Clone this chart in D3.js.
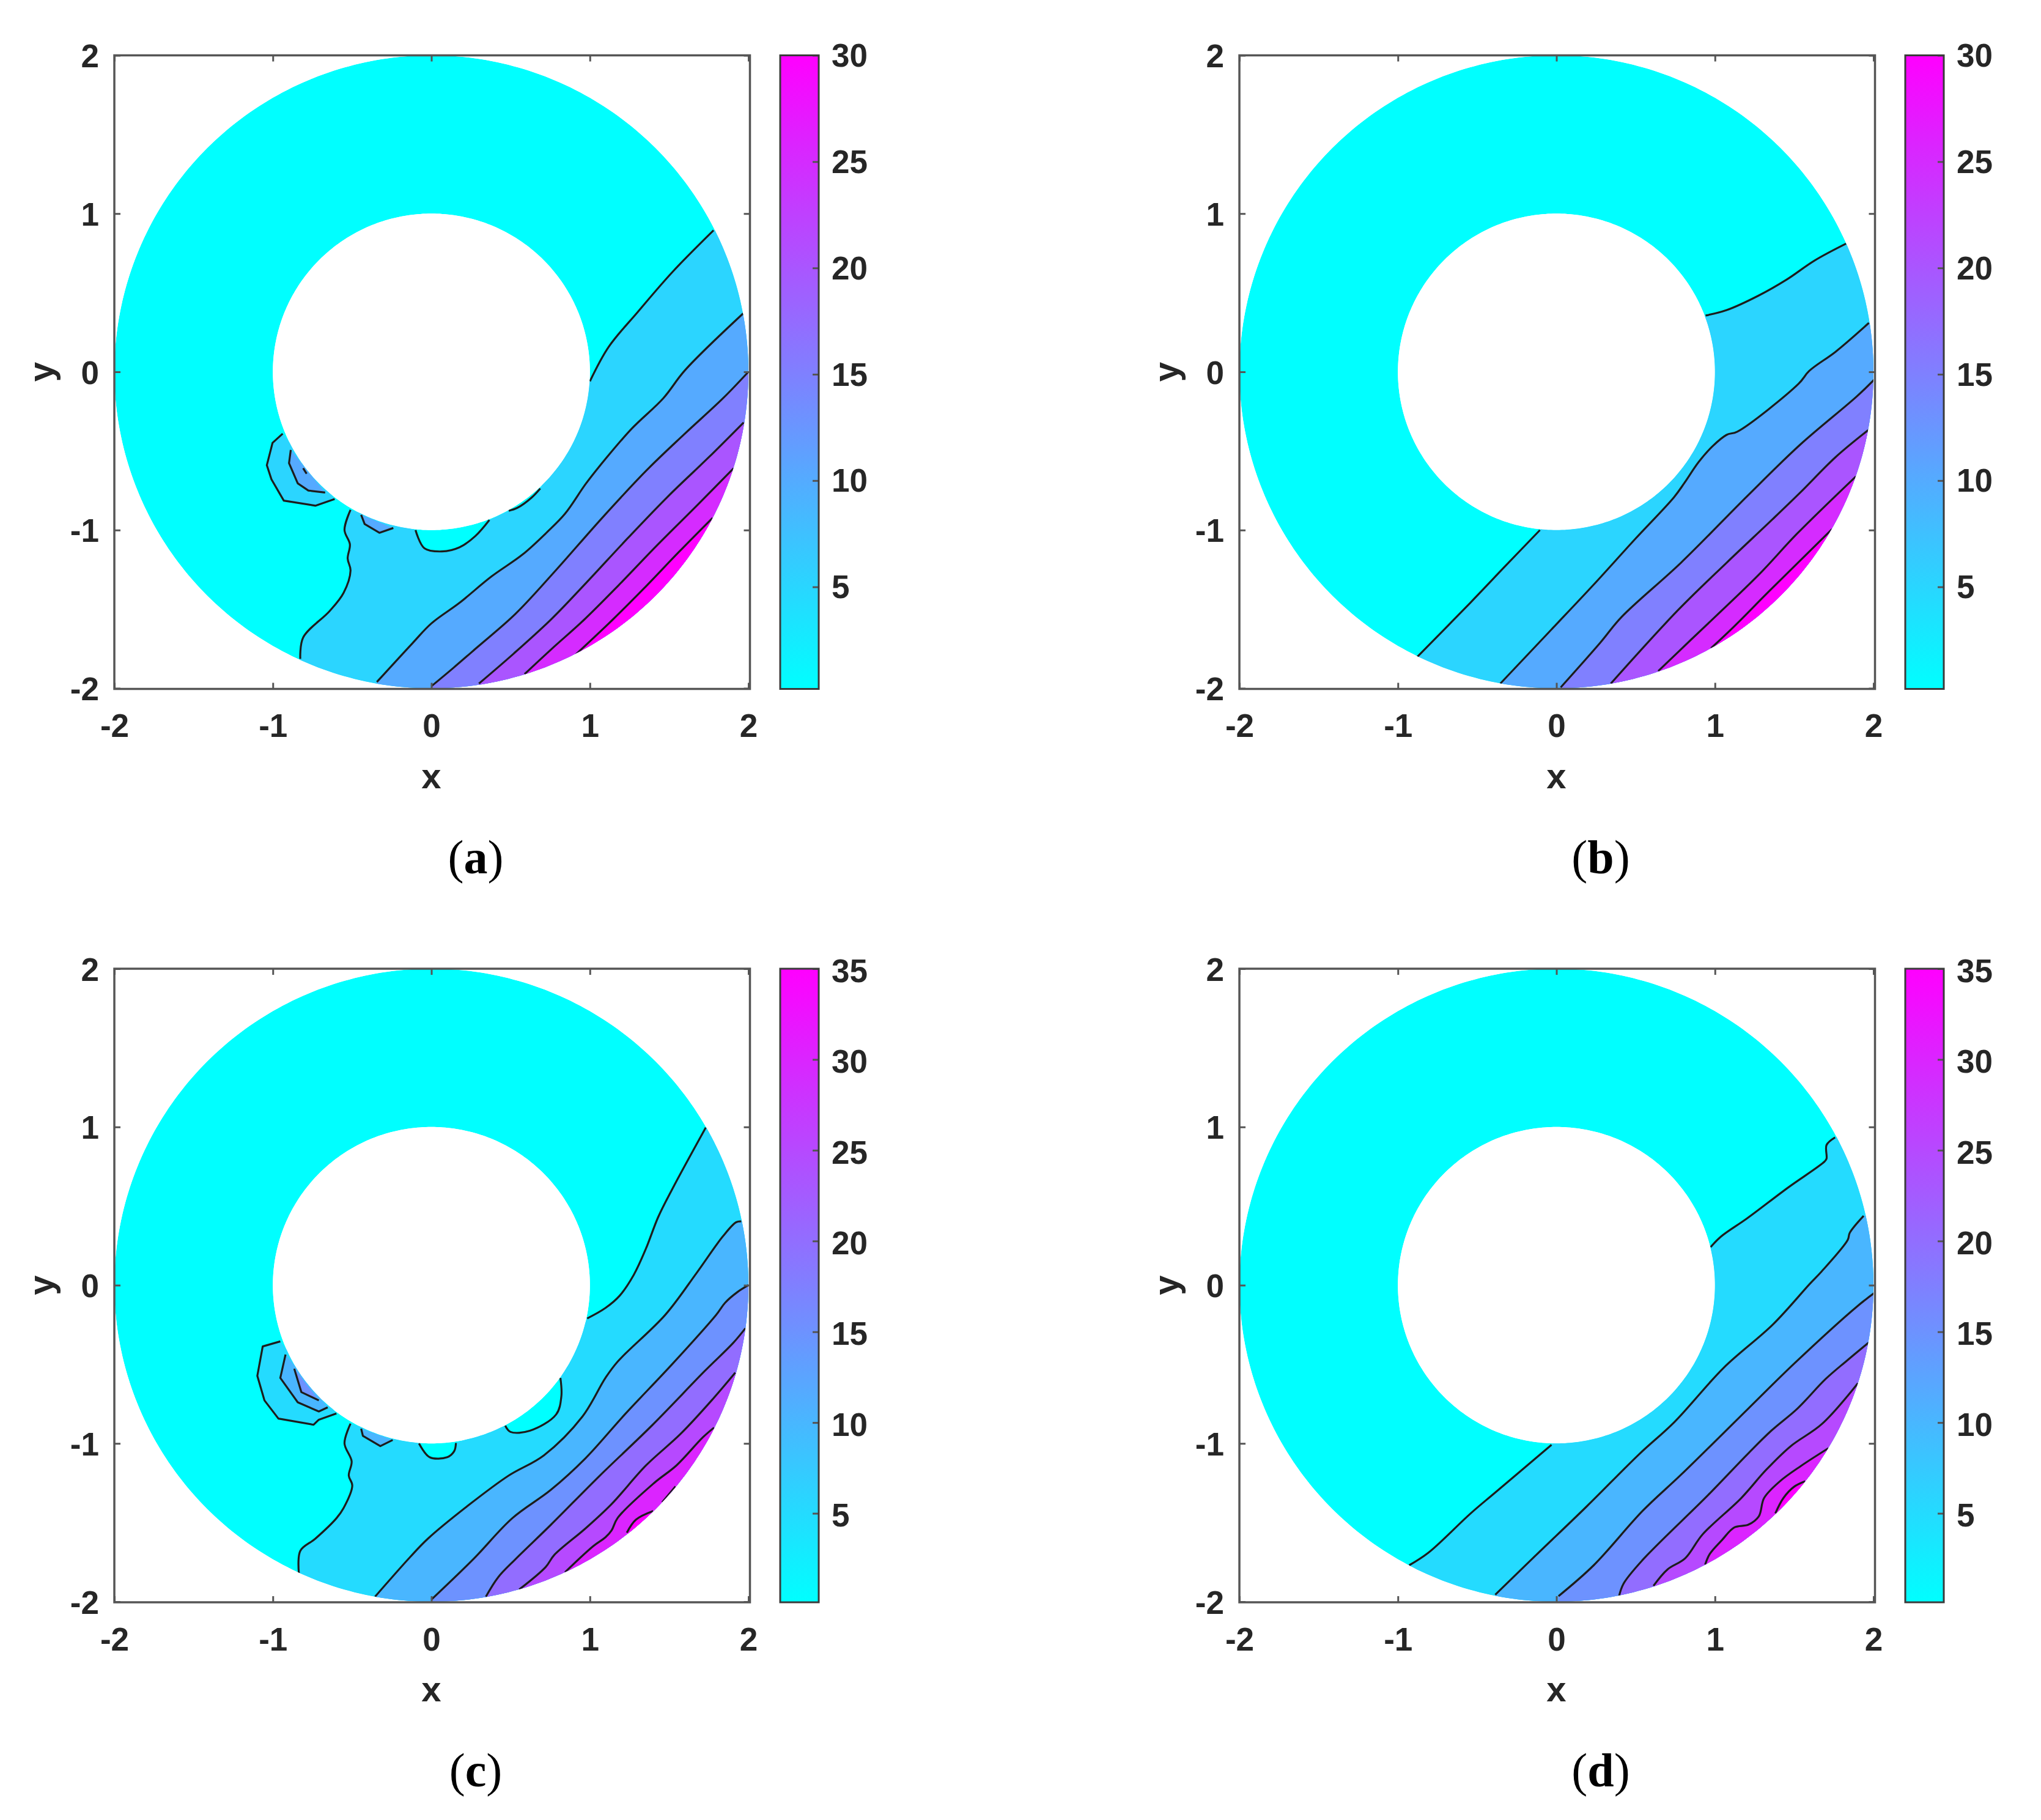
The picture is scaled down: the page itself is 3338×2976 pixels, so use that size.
<!DOCTYPE html>
<html>
<head>
<meta charset="utf-8">
<script src="https://cdn.jsdelivr.net/npm/d3@7/dist/d3.min.js"></script>
<style>
  html, body { margin: 0; padding: 0; background: #fff; }
</style>
</head>
<body>
<div id="chart"></div>
<script>
// axis values
const axisTicks = [-2, -1, 0, 1, 2]
const outerRadius = 2
const innerRadius = 1
const barTicks30 = [5, 10, 15, 20, 25, 30]
const barTicks35 = [5, 10, 15, 20, 25, 30, 35]
const barRange30 = [0.2, 30]
const barRange35 = [0.1, 35]

// contour lines, [x, y]; one level can have several pieces
const aLevels = [
  [
    [[1.78, 0.894], [1.52, 0.63], [1.30, 0.376], [1.118, 0.157], [1.0, -0.06]],
    [[0.687, -0.737], [0.632, -0.795], [0.543, -0.859], [0.488, -0.878]],
    [[0.366, -0.936], [0.277, -1.038], [0.177, -1.109], [0.067, -1.135], [-0.044, -1.115], [-0.1, -1.0]],
    [[-0.51, -0.872], [-0.548, -1.0], [-0.514, -1.09], [-0.528, -1.18], [-0.51, -1.256], [-0.554, -1.397], [-0.643, -1.513], [-0.809, -1.679], [-0.827, -1.814]]
  ],
  [[[1.967, 0.369], [1.6, 0.01], [1.463, -0.167], [1.264, -0.359], [1.098, -0.551], [0.976, -0.705], [0.843, -0.897], [0.73, -1.013], [0.576, -1.154], [0.377, -1.295], [0.177, -1.46], [0.0, -1.59], [-0.122, -1.718], [-0.344, -1.96]]],
  [[[2.0, 0.0], [1.84, -0.167], [1.6, -0.39], [1.36, -0.62], [1.08, -0.92], [0.78, -1.26], [0.53, -1.53], [0.29, -1.74], [0.14, -1.87], [0.0, -1.987]]],
  [[[1.97, -0.32], [1.75, -0.54], [1.5, -0.78], [1.24, -1.05], [0.98, -1.33], [0.76, -1.56], [0.52, -1.78], [0.3, -1.97]]],
  [[[1.907, -0.609], [1.68, -0.84], [1.42, -1.1], [1.18, -1.35], [0.96, -1.57], [0.76, -1.75], [0.588, -1.91]]],
  [[[1.774, -0.923], [1.56, -1.14], [1.34, -1.37], [1.14, -1.57], [0.909, -1.788]]]
]
const aIslands = [
  [1, [[-0.938, -0.391], [-1.002, -0.449], [-1.038, -0.59], [-1.009, -0.679], [-0.931, -0.814], [-0.732, -0.846], [-0.61, -0.804]]],
  [2, [[-0.887, -0.494], [-0.898, -0.577], [-0.843, -0.705], [-0.776, -0.75], [-0.67, -0.763]]],
  [3, [[-0.809, -0.609], [-0.787, -0.644]]],
  [2, [[-0.443, -0.904], [-0.421, -0.962], [-0.328, -1.017], [-0.24, -0.987]]]
]

const bLevels = [
  [
    [[1.827, 0.81], [1.628, 0.703], [1.451, 0.582], [1.274, 0.481], [1.074, 0.39], [0.941, 0.356]],
    [[-0.104, -1.0], [-0.321, -1.226], [-0.543, -1.459], [-0.879, -1.802]]
  ],
  [[[1.971, 0.309], [1.761, 0.127], [1.595, 0.006], [1.528, -0.075], [1.141, -0.378], [1.074, -0.398], [0.986, -0.469], [0.897, -0.57], [0.808, -0.701], [0.742, -0.792], [0.498, -1.055], [0.233, -1.347], [-0.033, -1.63], [-0.354, -1.97]]],
  [[[2.004, -0.05], [1.894, -0.156], [1.539, -0.459], [1.207, -0.782], [0.786, -1.206], [0.41, -1.55], [0.277, -1.711], [0.027, -1.994]]],
  [[[1.967, -0.368], [1.761, -0.539], [1.539, -0.762], [1.362, -0.933], [1.074, -1.206], [0.764, -1.509], [0.343, -1.97]]],
  [[[1.889, -0.661], [1.517, -1.024], [1.274, -1.285], [0.853, -1.689], [0.642, -1.891]]],
  [[[1.739, -0.994], [1.34, -1.388], [1.118, -1.612], [0.975, -1.747]]]
]
const bIslands = []

const cLevels = [
  [
    [[1.731, 0.996], [1.52, 0.608], [1.431, 0.431], [1.354, 0.232], [1.277, 0.066], [1.188, -0.066], [1.098, -0.144], [0.983, -0.21]],
    [[0.814, -0.586], [0.82, -0.702], [0.787, -0.817], [0.621, -0.92], [0.499, -0.927], [0.466, -0.888]],
    [[0.155, -0.997], [0.144, -1.049], [0.1, -1.087], [-0.011, -1.087], [-0.078, -1.0]],
    [[-0.51, -0.875], [-0.548, -1.0], [-0.503, -1.113], [-0.521, -1.203], [-0.499, -1.267], [-0.554, -1.409], [-0.599, -1.473], [-0.732, -1.602], [-0.827, -1.679], [-0.836, -1.82]]
  ],
  [[[1.955, 0.403], [1.923, 0.398], [1.84, 0.31], [1.673, 0.077], [1.475, -0.188], [1.175, -0.483], [1.098, -0.586], [0.953, -0.83], [0.71, -1.075], [0.488, -1.203], [0.244, -1.383], [-0.022, -1.602], [-0.133, -1.717], [-0.355, -1.968]]],
  [[[2.0, 0.0], [1.93, -0.044], [1.853, -0.111], [1.796, -0.188], [1.52, -0.498], [1.22, -0.817], [0.971, -1.095], [0.753, -1.294], [0.51, -1.473], [0.266, -1.73], [0.0, -1.987]]],
  [[[1.981, -0.272], [1.904, -0.365], [1.725, -0.542], [1.393, -0.885], [1.06, -1.206], [0.753, -1.515], [0.532, -1.73], [0.421, -1.846], [0.344, -1.968]]],
  [[[1.917, -0.553], [1.776, -0.719], [1.572, -0.94], [1.354, -1.139], [1.137, -1.383], [0.971, -1.538], [0.776, -1.704], [0.721, -1.781], [0.554, -1.923]]],
  [[[1.783, -0.9], [1.712, -0.962], [1.546, -1.139], [1.405, -1.25], [1.175, -1.471], [1.137, -1.549], [1.098, -1.593], [1.022, -1.648], [0.843, -1.814]]],
  [
    [[1.54, -1.272], [1.456, -1.372]],
    [[1.399, -1.427], [1.29, -1.482], [1.233, -1.564]]
  ]
]
const cIslands = [
  [1, [[-0.953, -0.355], [-1.064, -0.387], [-1.098, -0.573], [-1.053, -0.728], [-0.965, -0.843], [-0.743, -0.882], [-0.71, -0.85], [-0.599, -0.811]]],
  [2, [[-0.92, -0.438], [-0.953, -0.586], [-0.843, -0.74], [-0.71, -0.798], [-0.654, -0.772]]],
  [3, [[-0.865, -0.528], [-0.82, -0.676], [-0.71, -0.728]]],
  [2, [[-0.443, -0.907], [-0.432, -0.952], [-0.322, -1.017], [-0.244, -0.978]]]
]

const dLevels = [
  [
    [[1.758, 0.934], [1.704, 0.886], [1.704, 0.8], [1.692, 0.782], [1.46, 0.616], [1.204, 0.423], [1.038, 0.307], [0.973, 0.241]],
    [[-0.031, -1.009], [-0.386, -1.31], [-0.541, -1.442], [-0.807, -1.69], [-0.929, -1.77]]
  ],
  [[[1.938, 0.438], [1.85, 0.33], [1.838, 0.287], [1.673, 0.087], [1.599, 0.009], [1.366, -0.248], [1.055, -0.522], [0.745, -0.864], [0.523, -1.067], [0.191, -1.398], [-0.131, -1.708], [-0.386, -1.956]]],
  [[[2.013, -0.044], [1.898, -0.133], [1.499, -0.496], [1.211, -0.779], [0.789, -1.195], [0.545, -1.425], [0.235, -1.77], [0.013, -1.965]]],
  [[[1.969, -0.363], [1.831, -0.478], [1.698, -0.593], [1.521, -0.779], [1.355, -0.92], [1.211, -1.062], [0.956, -1.327], [0.545, -1.735], [0.424, -1.885], [0.395, -1.965]]],
  [[[1.902, -0.619], [1.676, -0.876], [1.477, -1.018], [1.322, -1.168], [1.166, -1.345], [0.922, -1.575], [0.812, -1.726], [0.701, -1.796], [0.612, -1.9]]],
  [[[1.716, -1.03], [1.543, -1.142], [1.41, -1.239], [1.31, -1.345], [1.277, -1.46], [1.211, -1.513], [1.122, -1.531], [1.044, -1.611], [0.967, -1.699], [0.938, -1.766]]],
  [[[1.57, -1.239], [1.499, -1.274], [1.432, -1.345], [1.381, -1.442]]]
]
const dIslands = []

const panels = [
  { id: 'a', left: 187, top: 90.5, barDy: '.34em', levels: aLevels, islands: aIslands, barTicks: barTicks30, barRange: barRange30 },
  { id: 'b', left: 2027, top: 90.5, barDy: '.34em', levels: bLevels, islands: bIslands, barTicks: barTicks30, barRange: barRange30 },
  { id: 'c', left: 187, top: 1584, barDy: '.40em', levels: cLevels, islands: cIslands, barTicks: barTicks35, barRange: barRange35 },
  { id: 'd', left: 2027, top: 1584, barDy: '.40em', levels: dLevels, islands: dIslands, barTicks: barTicks35, barRange: barRange35 }
]

// the data area stops a little short of the frame on the right and at the bottom
const plotWidth = 1037
const plotHeight = 1035
const frameWidth = 1039.5
const frameHeight = 1036
const barOffset = 1089
const barWidth = 63
const axisColor = '#555'
const textColor = '#262626'
const sansFont = '"Liberation Sans", Arial, sans-serif'
const serifFont = '"Liberation Serif", "Times New Roman", serif'

// cyan to magenta, same map for the bands and the colorbar
const coolMap = d3.scaleLinear().domain([0, 1]).range(['#00ffff', '#ff00ff'])

const svg = d3.select('#chart').append('svg')
  .attr('width', 3338)
  .attr('height', 2976)
  .style('display', 'block')

function styleAxis (g, dy) {
  g.selectAll('.domain').remove()
  g.selectAll('line').attr('stroke', axisColor).attr('stroke-width', 3)
  let labels = g.selectAll('text')
    .attr('fill', textColor)
    .style('font-family', sansFont)
    .style('font-weight', 'bold')
    .style('font-size', '53px')
  if (dy) labels.attr('dy', dy)
}

function drawPanel (p) {
  const g = svg.append('g')
    .attr('class', 'panel-' + p.id)
    .attr('transform', 'translate(' + p.left + ', ' + p.top + ')')

  const x = d3.scaleLinear().domain([-2, 2]).range([0, plotWidth])
  const y = d3.scaleLinear().domain([-2, 2]).range([plotHeight, 0])
  const line = d3.line().x(d => x(d[0])).y(d => y(d[1]))
  const smooth = d3.line().x(d => x(d[0])).y(d => y(d[1])).curve(d3.curveCatmullRom.alpha(0.5))

  const ring = (r) => line(d3.range(0, 361).map(a => {
    const t = a * Math.PI / 180
    return [r * Math.cos(t), r * Math.sin(t)]
  })) + 'Z'
  const annulus = ring(outerRadius) + ring(innerRadius)

  g.append('clipPath').attr('id', 'clip-' + p.id)
    .append('path')
    .attr('d', annulus)
    .attr('clip-rule', 'evenodd')

  const field = g.append('g').attr('clip-path', 'url(#clip-' + p.id + ')')
  const bandCount = p.levels.length

  field.append('path')
    .attr('d', annulus)
    .attr('fill-rule', 'evenodd')
    .attr('fill', coolMap(0))

  // each level fills everything on its lower right, the later ones paint over
  p.levels.forEach((pieces, i) => {
    const chain = pieces.flat()
    const first = chain[0]
    const last = chain[chain.length - 1]
    const start = line([[first[0] * 1.6, first[1] * 1.6]])
    const middle = pieces.map(piece => smooth(piece).replace('M', 'L')).join('')
    const end = line([[last[0] * 1.6, last[1] * 1.6], [3.5, -3.5]]).replace('M', 'L')
    field.append('path')
      .attr('d', start.replace('Z', '') + middle + end + 'Z')
      .attr('fill', coolMap((i + 1) / bandCount))
  })

  p.islands.forEach(d => {
    field.append('path')
      .attr('d', line(d[1]) + 'Z')
      .attr('fill', coolMap(d[0] / bandCount))
  })

  const strokeStyle = (sel) => sel
    .attr('fill', 'none')
    .attr('stroke', '#1c1c1c')
    .attr('stroke-width', 3.2)
    .attr('stroke-linejoin', 'round')

  field.selectAll('.contour')
    .data(p.levels.flat())
    .enter()
    .append('path')
    .attr('class', 'contour')
    .attr('d', smooth)
    .call(strokeStyle)

  field.selectAll('.island')
    .data(p.islands.map(d => d[1]))
    .enter()
    .append('path')
    .attr('class', 'island')
    .attr('d', line)
    .call(strokeStyle)

  // axes
  const noLabel = () => ''
  g.append('g').attr('transform', 'translate(0,' + frameHeight + ')')
    .call(d3.axisBottom(x).tickValues(axisTicks).tickSize(-10).tickPadding(41).tickFormat(String))
    .call(styleAxis)
  g.append('g')
    .call(d3.axisTop(x).tickValues(axisTicks).tickSize(-10).tickFormat(noLabel))
    .call(styleAxis)
  g.append('g')
    .call(d3.axisLeft(y).tickValues(axisTicks).tickSize(-10).tickPadding(25).tickFormat(String))
    .call(styleAxis, '.36em')
  g.append('g').attr('transform', 'translate(' + frameWidth + ',0)')
    .call(d3.axisRight(y).tickValues(axisTicks).tickSize(-10).tickFormat(noLabel))
    .call(styleAxis)

  g.append('rect')
    .attr('width', frameWidth)
    .attr('height', frameHeight)
    .attr('fill', 'none')
    .attr('stroke', axisColor)
    .attr('stroke-width', 3.5)

  g.append('text')
    .attr('x', x(0))
    .attr('y', frameHeight + 162)
    .attr('text-anchor', 'middle')
    .attr('fill', textColor)
    .style('font-family', sansFont)
    .style('font-weight', 'bold')
    .style('font-size', '58px')
    .text('x')

  g.append('text')
    .attr('transform', 'translate(-100,' + y(0) + ') rotate(-90)')
    .attr('text-anchor', 'middle')
    .attr('fill', textColor)
    .style('font-family', sansFont)
    .style('font-weight', 'bold')
    .style('font-size', '58px')
    .text('y')

  // colorbar
  const barY = d3.scaleLinear().domain(p.barRange).range([frameHeight, 0])
  const gradient = g.append('linearGradient')
    .attr('id', 'bar-' + p.id)
    .attr('x1', 0).attr('y1', 1).attr('x2', 0).attr('y2', 0)
  gradient.append('stop').attr('offset', '0%').attr('stop-color', coolMap(0))
  gradient.append('stop').attr('offset', '100%').attr('stop-color', coolMap(1))

  const bar = g.append('g').attr('transform', 'translate(' + barOffset + ',0)')
  bar.append('rect')
    .attr('width', barWidth)
    .attr('height', frameHeight)
    .attr('fill', 'url(#bar-' + p.id + ')')
  bar.append('g').attr('transform', 'translate(' + barWidth + ',0)')
    .call(d3.axisRight(barY).tickValues(p.barTicks).tickSize(-10).tickPadding(21).tickFormat(String))
    .call(styleAxis, p.barDy)
  bar.append('rect')
    .attr('width', barWidth)
    .attr('height', frameHeight)
    .attr('fill', 'none')
    .attr('stroke', '#3a3a3a')
    .attr('stroke-width', 3)

  // caption
  const caption = g.append('text')
    .attr('x', 591)
    .attr('y', frameHeight + 301)
    .attr('text-anchor', 'middle')
    .attr('fill', '#000')
    .style('font-family', serifFont)
    .style('font-size', '78px')
  caption.append('tspan').text('(')
  caption.append('tspan').style('font-weight', 'bold').text(p.id)
  caption.append('tspan').text(')')
}

panels.forEach(drawPanel)
</script>
</body>
</html>
